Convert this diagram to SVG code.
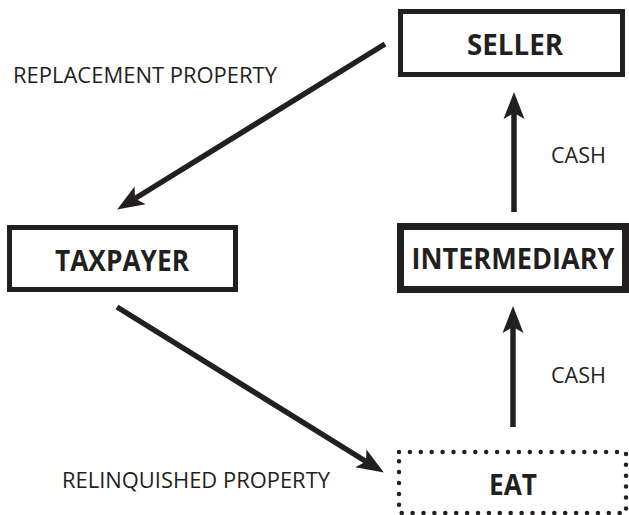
<svg xmlns="http://www.w3.org/2000/svg" width="629" height="515" viewBox="0 0 629 515">
<style>
.box{fill:#fff;stroke:#231f20;stroke-width:5}
.thick{stroke-width:7}
.dot{fill:#fff;stroke:#231f20;stroke-width:4.5;stroke-dasharray:0 10.9;stroke-linecap:round}
.lbl{font-family:"Open Sans","Liberation Sans",sans-serif;font-size:21.5px;fill:#231f20}
.nm{font-family:"Open Sans","Liberation Sans",sans-serif;font-size:29px;font-weight:bold;fill:#231f20;text-anchor:middle}
.conn line{stroke:#231f20;stroke-width:5.5;fill:none}
</style>
<defs>
<marker id="ah" markerUnits="userSpaceOnUse" markerWidth="27" markerHeight="22" viewBox="0 0 27 22" refX="6" refY="11" orient="auto">
<path d="M27,11 L0,0.5 L6,11 L0,21.5 Z" fill="#231f20"/>
</marker>
</defs>
<rect width="629" height="515" fill="#fff"/>
<g id="seller">
<rect class="box" x="400.5" y="11.5" width="222" height="63"/>
<text class="nm" x="515" y="55" textLength="96" lengthAdjust="spacingAndGlyphs">SELLER</text>
</g>
<g id="taxpayer">
<rect class="box" x="9.5" y="227.5" width="226" height="62"/>
<text class="nm" x="122" y="271" textLength="134" lengthAdjust="spacingAndGlyphs">TAXPAYER</text>
</g>
<g id="intermediary">
<rect class="box thick" x="400.5" y="226.5" width="225" height="63"/>
<text class="nm" x="513" y="269" textLength="203" lengthAdjust="spacingAndGlyphs">INTERMEDIARY</text>
</g>
<g id="eat">
<rect class="dot" x="399" y="452" width="227" height="61"/>
<text class="nm" x="513" y="495" textLength="48" lengthAdjust="spacingAndGlyphs">EAT</text>
</g>
<g id="connectors" class="conn">
<line x1="385" y1="44" x2="135" y2="198.5" marker-end="url(#ah)"/>
<line x1="117" y1="307" x2="366" y2="461.5" marker-end="url(#ah)"/>
<line x1="514" y1="212" x2="514" y2="113" marker-end="url(#ah)"/>
<line x1="513" y1="427" x2="513" y2="327" marker-end="url(#ah)"/>
</g>
<g id="labels">
<text class="lbl" x="13" y="83" textLength="264" lengthAdjust="spacingAndGlyphs">REPLACEMENT PROPERTY</text>
<text class="lbl" x="551" y="163" textLength="55" lengthAdjust="spacingAndGlyphs">CASH</text>
<text class="lbl" x="551" y="383" textLength="55" lengthAdjust="spacingAndGlyphs">CASH</text>
<text class="lbl" x="62" y="488" textLength="268" lengthAdjust="spacingAndGlyphs">RELINQUISHED PROPERTY</text>
</g>
</svg>
